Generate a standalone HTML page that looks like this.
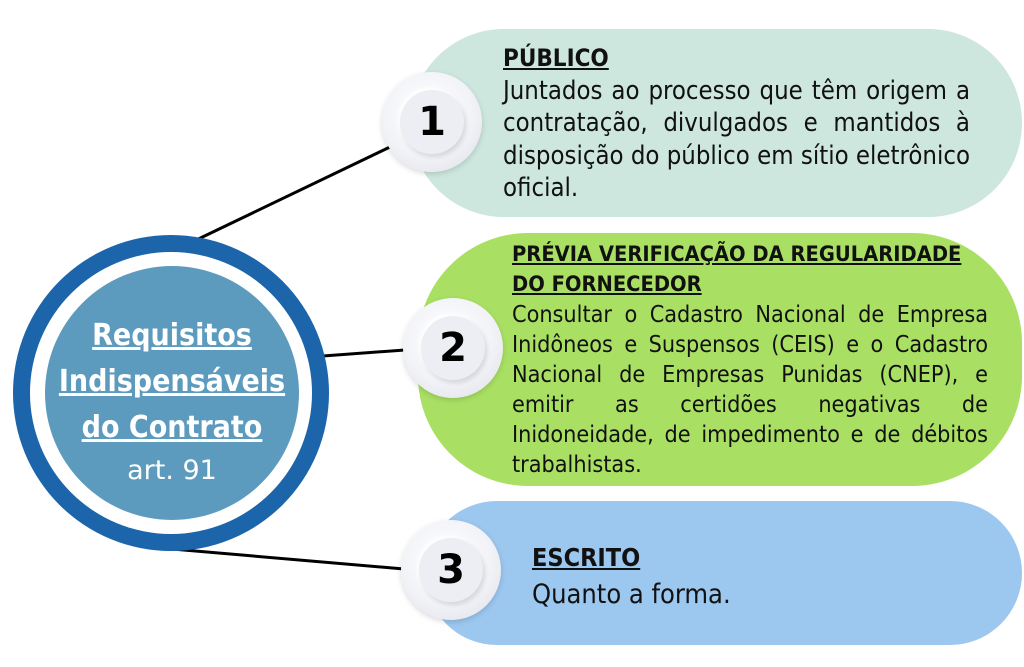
<!DOCTYPE html>
<html><head><meta charset="utf-8"><style>
body{margin:0;width:1024px;height:667px;background:#fff;position:relative;overflow:hidden;font-family:"DejaVu Sans Condensed","DejaVu Sans",sans-serif;color:#111}
.pill{position:absolute}
.t{position:absolute;text-align:justify}
.t b{text-decoration:underline;font-weight:bold;display:block;text-align:left}
.num{position:absolute;width:100px;height:100px;border-radius:50%;background:radial-gradient(circle at 45% 40%,#fff 0%,#f2f3f7 55%,#dcdde5 100%);box-shadow:0 2px 6px rgba(0,0,0,.15)}
.num div{position:absolute;left:18px;top:18px;width:64px;height:64px;border-radius:50%;background:#eceef3;box-shadow:2px 3px 5px rgba(0,0,0,.12),-2px -2px 4px #fff;font:900 40px "DejaVu Sans","Liberation Sans",sans-serif;text-align:center;line-height:64px;color:#000}
</style></head><body>
<svg style="position:absolute;left:0;top:0" width="1024" height="667">
<line x1="190" y1="243" x2="392" y2="146" stroke="#000" stroke-width="3"/>
<line x1="323" y1="356" x2="405" y2="350" stroke="#000" stroke-width="3"/>
<line x1="172" y1="549" x2="404" y2="569" stroke="#000" stroke-width="3"/>
</svg>
<div class="pill" style="left:410px;top:29px;width:612px;height:188px;background:#cde7de;border-radius:94px"></div>
<div class="pill" style="left:418px;top:233px;width:604px;height:253px;background:#a9e063;border-radius:110px"></div>
<div class="pill" style="left:425px;top:501px;width:597px;height:144px;background:#9cc7ef;border-radius:72px"></div>
<div style="position:absolute;left:13px;top:235px;width:316px;height:316px;border-radius:50%;background:#1c65aa"></div>
<div style="position:absolute;left:30px;top:252px;width:282px;height:282px;border-radius:50%;background:#fff"></div>
<div style="position:absolute;left:45px;top:266px;width:254px;height:254px;border-radius:50%;background:#5d9bbe"></div>
<div style="position:absolute;left:25px;top:313px;width:294px;text-align:center;color:#fff;font-size:30px;line-height:46px">
<div style="font-weight:bold;text-decoration:underline">Requisitos<br>Indispensáveis<br>do Contrato</div><div style="font-family:'DejaVu Sans',sans-serif;font-size:27px;line-height:40px">art. 91</div></div>
<div class="num" style="left:382px;top:72px"><div>1</div></div>
<div class="num" style="left:403px;top:298px"><div>2</div></div>
<div class="num" style="left:401px;top:520px"><div>3</div></div>
<div class="t" style="left:503px;top:42px;width:467px;font-size:25.5px;line-height:32.5px"><b style="font-size:24px">PÚBLICO</b>Juntados ao processo que têm origem a contratação, divulgados e mantidos à disposição do público em sítio eletrônico oficial.</div>
<div class="t" style="left:512px;top:240px;width:476px;font-size:23.2px;line-height:30px"><b style="font-size:21.7px">PRÉVIA VERIFICAÇÃO DA REGULARIDADE<br>DO FORNECEDOR</b>Consultar o Cadastro Nacional de Empresa Inidôneos e Suspensos (CEIS) e o Cadastro Nacional de Empresas Punidas (CNEP), e emitir as certidões negativas de Inidoneidade, de impedimento e de débitos trabalhistas.</div>
<div class="t" style="left:532px;top:539px;width:470px;font-size:27px;line-height:37px"><b style="font-size:25px">ESCRITO</b>Quanto a forma.</div>
</body></html>
